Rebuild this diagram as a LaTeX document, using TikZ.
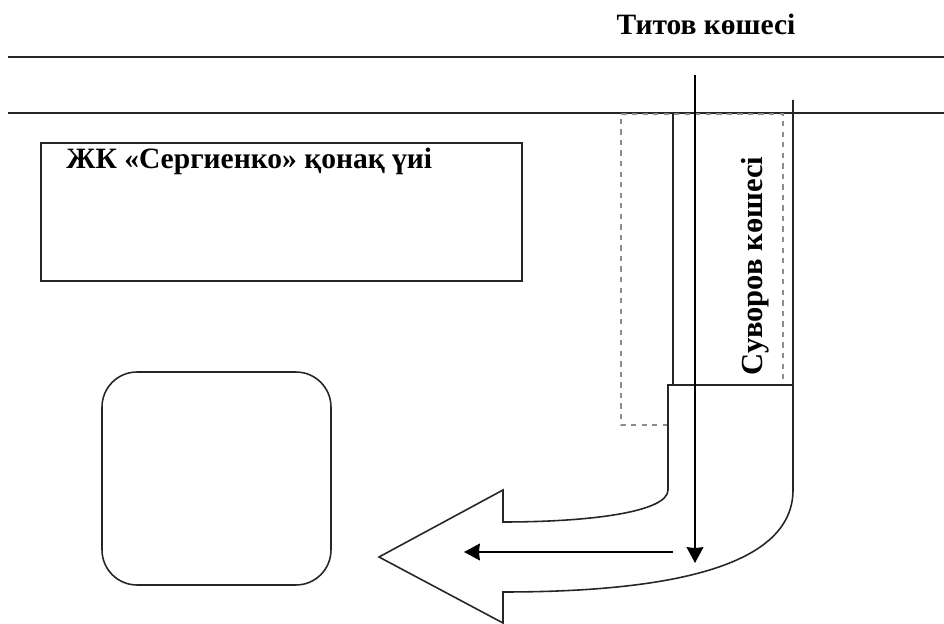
\documentclass[tikz,border=0pt]{standalone}
\usepackage{fontspec}
\setmainfont{Liberation Serif}
\usetikzlibrary{arrows.meta}
\tikzset{
  >={Stealth[length=9pt,width=9.5pt,inset=0.5pt]},
  road/.style={draw=black!85, line width=0.9pt},
  way/.style={draw=black, line width=1.1pt, ->},
  zone/.style={draw=black!45, dashed, line width=0.6pt},
  title/.style={font=\bfseries\fontsize{16.8}{19}\selectfont, inner sep=0pt},
}
\begin{document}
\begin{tikzpicture}[x=0.02cm,y=-0.02cm]
\useasboundingbox (0,0) rectangle (944,624);
\coordinate (L1) at (8,57);
\coordinate (R1) at (944,57);
\coordinate (L2) at (8,113);
\coordinate (R2) at (944,113);
\draw[road] (L1) -- (R1);
\draw[road] (L2) -- (R2);
\node[title] (titov) at (706,24) {Титов көшесі};
% hotel and the second block
\node[road, minimum width=9.62cm, minimum height=2.76cm, inner sep=0pt] (hotel) at (281.5,212) {};
\node[title, anchor=north west] (hotelname) at (66,148) {ЖК «Сергиенко» қонақ үиі};
\node[road, rounded corners=0.7cm, minimum width=4.58cm, minimum height=4.26cm, inner sep=0pt] (block) at (216.5,478.5) {};
% dashed zone
\draw[zone] (668,425) -- (621,425) -- (621,114) -- (783,114) -- (783,385);
% street
\draw[road] (673,113) -- (673,385);
\node[title, rotate=90, font=\bfseries\fontsize{17.4}{19}\selectfont] (suvorov) at (755,266) {Суворов көшесі};
\draw[road, line join=miter] (793,100) -- (793,490)
   .. controls (793,560) and (690,592) .. (503,592)
   -- (503,623) -- (379,557) -- (503,490) -- (503,522)
   .. controls (590,522) and (668,512) .. (668,490)
   -- (668,385) -- (793,385);
% directions
\coordinate (S1) at (695,75);
\coordinate (E1) at (695,563);
\coordinate (S2) at (673,552);
\coordinate (E2) at (464,552);
\draw[way] (S1) -- (E1);
\draw[way] (S2) -- (E2);
\end{tikzpicture}
\end{document}
